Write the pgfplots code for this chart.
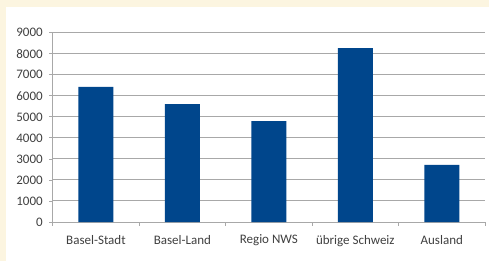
\documentclass[border=0pt]{standalone}
\usepackage{pgfplots}
\pgfplotsset{compat=1.18}
\usepackage{fontspec}
\setmainfont{Carlito}
\definecolor{cream}{HTML}{FCF5E0}
\definecolor{barblue}{HTML}{00468C}
\definecolor{gridgray}{HTML}{A8A8A8}
\definecolor{txt}{HTML}{404040}
\begin{document}
\begin{tikzpicture}
\fill[cream] (0,0) rectangle (489bp,261bp);
\fill[white] (6bp,0) rectangle (489bp,254bp);
\begin{axis}[
  at={(52.7bp,39bp)}, anchor=south west,
  scale only axis, width=432.3bp, height=189.3bp,
  xmin=-0.5, xmax=4.5, ymin=0, ymax=9000,
  ytick={0,1000,...,9000},
  xtick={0,...,4},
  xticklabels={Basel-Stadt,Basel-Land,Regio NWS,übrige Schweiz,Ausland},
  minor xtick={-0.5,0.5,...,4.5},
  major x tick style={draw=none},
  minor x tick style={gridgray, line width=0.8pt},
  y tick style={gridgray, line width=0.8pt},
  tick align=outside,
  major tick length=3.5bp, minor tick length=3.5bp,
  xtick pos=bottom, ytick pos=left,
  ymajorgrids, grid style={gridgray, line width=1pt},
  axis x line*=bottom, axis y line*=left,
  axis line style={gridgray, line width=0.8pt},
  tick label style={font=\fontsize{13bp}{15bp}\selectfont, text=txt},
  /pgf/number format/assume math mode=true,
  scaled y ticks=false,
  yticklabel style={/pgf/number format/set thousands separator={}, xshift=-3bp},
  xticklabel style={yshift=-6bp},
  clip=false,
]
\addplot[ybar, bar width=35bp, fill=barblue, draw=none] coordinates {
  (0,6420) (1,5610) (2,4800) (3,8270) (4,2710)
};
\end{axis}
\end{tikzpicture}
\end{document}
